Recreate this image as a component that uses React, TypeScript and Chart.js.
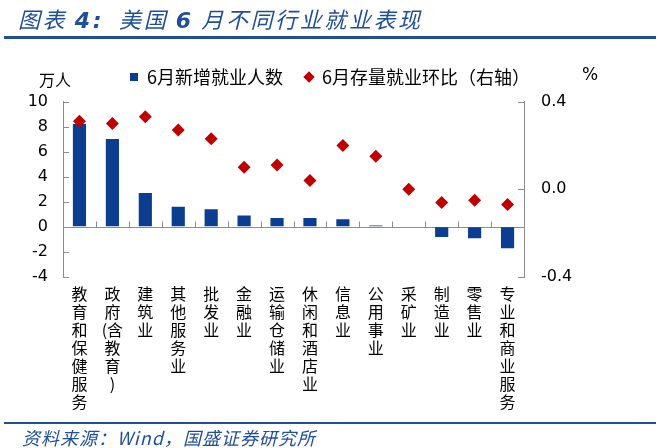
import React, { useEffect, useRef } from 'react';
import { Chart, registerables } from 'chart.js';

Chart.register(...registerables);

// ---- data ----
const categories = [
  '教育和保健服务',
  '政府(含教育)',
  '建筑业',
  '其他服务业',
  '批发业',
  '金融业',
  '运输仓储业',
  '休闲和酒店业',
  '信息业',
  '公用事业',
  '采矿业',
  '制造业',
  '零售业',
  '专业和商业服务',
];
// 6月新增就业人数 (万人)
const newJobs = [8.2, 7.0, 2.7, 1.6, 1.4, 0.9, 0.7, 0.7, 0.6, 0.1, 0.0, -0.8, -0.9, -1.7];
// 6月存量就业环比 (%, 右轴)
const momChange = [0.31, 0.30, 0.33, 0.27, 0.23, 0.10, 0.11, 0.04, 0.20, 0.15, 0.0, -0.06, -0.05, -0.07];

const seriesNames = ['6月新增就业人数', '6月存量就业环比（右轴）'];
const leftAxis = { min: -4, max: 10, step: 2, unit: '万人' };
const rightAxis = { min: -0.4, max: 0.4, step: 0.4, unit: '%' };
const sourceText = '资料来源：Wind，国盛证券研究所';

const CJK = '"Noto Sans CJK SC", "Noto Sans", sans-serif';
const NUM = '"DejaVu Sans", Verdana, sans-serif';
const BLUE = '#0B3D91';
const RED = '#C00000';
const AXIS = '#8C8C8C';
const HEAD = '#1F4E9A';

// stack characters vertically; an opening bracket shares a line with the next character
const verticalLabel = (s: string) => {
  const out: string[] = [];
  let pending = '';
  for (const ch of Array.from(s)) {
    if (ch === '(') {
      pending = ch;
      continue;
    }
    out.push(pending + ch);
    pending = '';
  }
  return out;
};

const decor = {
  id: 'decor',
  beforeLayout(chart: any) {
    const lg = chart.legend;
    if (lg && !lg.__patched) {
      const f = lg.fit.bind(lg);
      lg.fit = () => {
        f();
        lg.height = 55.5;
      };
      lg.__patched = true;
    }
  },
  beforeDatasetsDraw(chart: any) {
    const { ctx, chartArea: a, scales } = chart;
    const y = scales.y;
    const y1 = scales.y1;
    ctx.save();
    ctx.strokeStyle = AXIS;
    ctx.lineWidth = 1;
    ctx.beginPath();
    const y0 = Math.round(y.getPixelForValue(0)) + 0.5;
    ctx.moveTo(a.left, y0);
    ctx.lineTo(a.right, y0);
    const n = categories.length;
    const w = (a.right - a.left) / n;
    for (let i = 1; i < n; i++) {
      const px = Math.round(a.left + w * i) + 0.5;
      ctx.moveTo(px, y0);
      ctx.lineTo(px, y0 - 6);
    }
    y.ticks.forEach((_t: any, i: number) => {
      const py = Math.round(y.getPixelForTick(i)) + 0.5;
      ctx.moveTo(a.left, py);
      ctx.lineTo(a.left + 6, py);
    });
    y1.ticks.forEach((_t: any, i: number) => {
      const py = Math.round(y1.getPixelForTick(i)) + 0.5;
      ctx.moveTo(a.right, py);
      ctx.lineTo(a.right - 6, py);
    });
    ctx.stroke();
    ctx.restore();
  },
  afterDraw(chart: any) {
    const { ctx, chartArea: a } = chart;
    ctx.save();
    ctx.fillStyle = '#000';
    ctx.textAlign = 'center';
    ctx.textBaseline = 'middle';
    ctx.font = `16px ${CJK}`;
    ctx.fillText(leftAxis.unit, a.left - 8, a.top - 22);
    ctx.font = `17px ${NUM}`;
    ctx.fillText(rightAxis.unit, a.right + 66, a.top - 26);
    ctx.restore();
  },
};

export default function App() {
  const ref = useRef<HTMLCanvasElement | null>(null);

  useEffect(() => {
    if (!ref.current) return;
    const chart = new Chart(ref.current, {
      type: 'bar',
      data: {
        labels: categories.map(verticalLabel),
        datasets: [
          {
            type: 'bar',
            label: seriesNames[0],
            data: newJobs,
            backgroundColor: BLUE,
            borderWidth: 0,
            barPercentage: 0.4,
            categoryPercentage: 1.0,
            pointStyle: 'rect',
            yAxisID: 'y',
            order: 2,
          } as any,
          {
            type: 'line',
            label: seriesNames[1],
            data: momChange,
            showLine: false,
            pointStyle: 'rectRot',
            pointRadius: 6.5,
            pointHoverRadius: 6.5,
            backgroundColor: RED,
            borderColor: RED,
            borderWidth: 0,
            yAxisID: 'y1',
            order: 1,
          } as any,
        ],
      },
      options: {
        responsive: false,
        animation: false,
        devicePixelRatio: 1,
        layout: { padding: { top: 46, left: 0, right: 0, bottom: 0 } },
        plugins: {
          tooltip: { enabled: false },
          legend: {
            position: 'top',
            align: 'center',
            labels: {
              usePointStyle: true,
              boxWidth: 8,
              boxHeight: 8,
              padding: 22,
              color: '#000',
              font: { size: 18, family: CJK },
              sort: (a: any, b: any) => a.datasetIndex - b.datasetIndex,
            },
          },
        },
        scales: {
          x: {
            grid: { display: false, drawTicks: false },
            border: { display: false },
            ticks: {
              autoSkip: false,
              maxRotation: 0,
              minRotation: 0,
              padding: 8,
              color: '#000',
              font: { size: 16, family: CJK, lineHeight: 1.125 },
            },
            afterFit(s: any) {
              s.height = 171;
            },
          },
          y: {
            position: 'left',
            min: leftAxis.min,
            max: leftAxis.max,
            grid: { display: true, drawOnChartArea: false, drawTicks: false },
            border: { display: true, color: AXIS, width: 1 },
            ticks: {
              stepSize: leftAxis.step,
              padding: 15,
              color: '#000',
              font: { size: 16, family: NUM },
              callback: (v: any) => String(v),
            },
            afterFit(s: any) {
              s.width = 63;
            },
          },
          y1: {
            position: 'right',
            min: rightAxis.min,
            max: rightAxis.max,
            grid: { display: true, drawOnChartArea: false, drawTicks: false },
            border: { display: true, color: AXIS, width: 1 },
            ticks: {
              stepSize: rightAxis.step,
              padding: 17,
              color: '#000',
              font: { size: 16, family: NUM },
              callback: (v: any) => Number(v).toFixed(1),
            },
            afterFit(s: any) {
              s.width = 136;
            },
          },
        },
      } as any,
      plugins: [decor as any],
    });
    return () => chart.destroy();
  }, []);

  const digit = { fontFamily: NUM, fontWeight: 700 } as const;

  return (
    <div
      style={{
        position: 'absolute',
        left: 0,
        top: 0,
        width: 660,
        height: 448,
        background: '#fff',
        overflow: 'hidden',
      }}
    >
      <canvas ref={ref} width={660} height={448} style={{ position: 'absolute', left: 0, top: 0 }} />
      <div
        style={{
          position: 'absolute',
          left: 18,
          top: 7,
          fontFamily: CJK,
          fontSize: 22,
          lineHeight: '22px',
          fontStyle: 'italic',
          letterSpacing: 2.6,
          color: HEAD,
          whiteSpace: 'pre',
        }}
      >
        图表 <span style={digit}>4:</span>  美国 <span style={digit}>6</span> 月不同行业就业表现
      </div>
      <div style={{ position: 'absolute', left: 4, top: 36, width: 652, height: 3, background: HEAD }} />
      <div style={{ position: 'absolute', left: 4, top: 422, width: 652, height: 2, background: HEAD }} />
      <div
        style={{
          position: 'absolute',
          left: 22,
          top: 428,
          fontFamily: CJK,
          fontSize: 18,
          lineHeight: '18px',
          fontStyle: 'italic',
          letterSpacing: 1,
          color: HEAD,
          whiteSpace: 'pre',
        }}
      >
        {sourceText}
      </div>
    </div>
  );
}
